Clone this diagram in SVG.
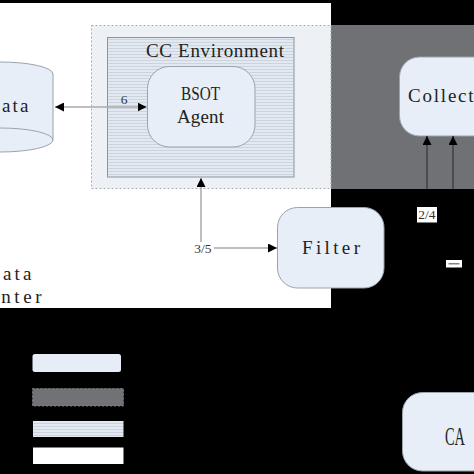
<svg xmlns="http://www.w3.org/2000/svg" width="474" height="474" viewBox="0 0 474 474">
  <defs>
    <pattern id="hatch" width="4" height="3" patternUnits="userSpaceOnUse">
      <rect width="4" height="3" fill="#e3e9f1"/>
      <line x1="0" y1="0.5" x2="4" y2="0.5" stroke="#cbd3de" stroke-width="1"/>
    </pattern>
    <marker id="arr" viewBox="0 0 10 10" refX="10" refY="5" markerWidth="9" markerHeight="9" markerUnits="userSpaceOnUse" orient="auto-start-reverse">
      <path d="M0,0 L10,5 L0,10 z" fill="#000"/>
    </marker>
  </defs>
  <style>
    .node { fill: #e7eef7; stroke: #9aa3ae; stroke-width: 1; }
    .lbl { font-family: "Liberation Serif", "DejaVu Serif", serif; font-size: 19px; fill: #222; }
    .small { font-family: "Liberation Serif", "DejaVu Serif", serif; font-size: 13.5px; fill: #333; }
    .conn { fill: none; stroke: #a8a8a8; stroke-width: 1.5; }
    .conn-dark { fill: none; stroke: #3e4043; stroke-width: 1.5; }
  </style>

  <rect x="0" y="0" width="474" height="474" fill="#000"/>
  <rect x="0" y="3" width="331" height="305" fill="#fff"/>
  <rect x="331" y="25" width="143" height="164" fill="#6f7175"/>

  <g id="cc-environment">
    <rect x="91.5" y="25.5" width="239.5" height="163" fill="#edf1f6" stroke="#a9adb3" stroke-width="1" stroke-dasharray="2,2"/>
    <rect x="107.5" y="37.5" width="186.5" height="139.5" fill="url(#hatch)" stroke="#8d949d" stroke-width="1"/>
    <text class="lbl" x="146" y="57" textLength="138">CC Environment</text>
  </g>

  <g id="bsot-agent">
    <rect class="node" x="147.5" y="66.5" width="107.5" height="80.5" rx="22"/>
    <text class="lbl" x="181" y="100" textLength="39" lengthAdjust="spacingAndGlyphs">BSOT</text>
    <text class="lbl" x="177" y="123" textLength="47">Agent</text>
  </g>

  <g id="data">
    <path class="node" d="M-53,74 A53,12 0 0 1 53,74 L53,140 A53,12 0 0 1 -53,140 Z"/>
    <path d="M-53,140 A53,12 0 0 1 53,140" fill="none" stroke="#9aa3ae" stroke-width="1"/>
    <text class="lbl" x="-14" y="112" textLength="42.5">Data</text>
  </g>

  <g id="data-center">
    <text class="lbl" x="-14" y="280" textLength="45.5">Data</text>
    <text class="lbl" x="-27" y="303" textLength="68.5">Center</text>
  </g>

  <g id="filter">
    <rect class="node" x="277.5" y="207.5" width="106.5" height="80.5" rx="20"/>
    <text class="lbl" x="302" y="254" textLength="58">Filter</text>
  </g>

  <g id="collector">
    <rect class="node" x="399.5" y="57" width="110" height="79" rx="20"/>
    <text class="lbl" x="408" y="102" textLength="85">Collector</text>
  </g>

  <g id="ca">
    <rect class="node" x="402.5" y="392.5" width="110" height="78.5" rx="20"/>
    <text class="lbl" x="445" y="445" style="font-size:25px" textLength="20" lengthAdjust="spacingAndGlyphs">CA</text>
  </g>

  <g id="connectors">
    <line class="conn" x1="55" y1="107" x2="146.5" y2="107" marker-start="url(#arr)" marker-end="url(#arr)"/>
    <text class="small" x="124" y="104" text-anchor="middle">6</text>
    <polyline class="conn" points="201,242 201,178" marker-end="url(#arr)"/>
    <line class="conn" x1="214" y1="248" x2="277" y2="248" marker-end="url(#arr)"/>
    <text class="small" x="203" y="253" text-anchor="middle">3/5</text>
    <line class="conn-dark" x1="427" y1="189" x2="427" y2="136" marker-end="url(#arr)"/>
    <line class="conn-dark" x1="453" y1="189" x2="453" y2="136" marker-end="url(#arr)"/>
    <rect x="417" y="207" width="20" height="15.5" fill="#fff"/>
    <text class="small" x="427" y="219" text-anchor="middle">2/4</text>
    <rect x="446" y="260" width="16" height="7.5" fill="#fff"/>
    <line x1="448.5" y1="263.8" x2="459.5" y2="263.8" stroke="#666" stroke-width="1.2"/>
  </g>

  <g id="legend">
    <rect x="32.5" y="354" width="88.5" height="18" rx="2.5" fill="#e6edf6"/>
    <rect x="32.5" y="388.5" width="91" height="17.5" fill="#707275" stroke="#8a8c90" stroke-width="0.8" stroke-dasharray="2,2"/>
    <rect x="33" y="421" width="90.5" height="16" fill="url(#hatch)"/>
    <rect x="33" y="447.5" width="90.5" height="16.5" fill="#fff"/>
  </g>
</svg>
